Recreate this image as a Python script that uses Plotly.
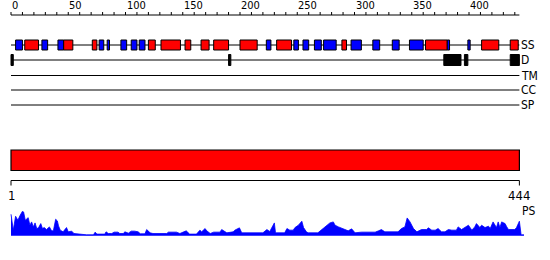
import plotly.graph_objects as go

# ---------------- data ----------------
seq_len = 444

ss_start = [4, 12, 27, 41, 46, 71, 77, 84, 96, 105, 112, 120, 131, 152, 166, 177, 200,
            223, 232, 247, 255, 265, 273, 289, 297, 316, 333, 348, 362, 381, 399, 411, 436]
ss_end = [10, 24, 32, 46, 54, 75, 81, 86, 101, 110, 117, 126, 148, 157, 173, 190, 215,
          227, 245, 251, 260, 271, 284, 293, 306, 322, 339, 360, 381, 383, 401, 426, 443]
ss_type = ['E', 'H', 'E', 'E', 'H', 'H', 'E', 'E', 'E', 'E', 'E', 'H', 'H', 'H', 'H', 'H', 'H',
           'E', 'H', 'E', 'E', 'E', 'E', 'H', 'E', 'E', 'E', 'E', 'H', 'E', 'E', 'H', 'H']

dis_start = [0, 190, 378, 396, 436]
dis_end = [2, 192, 393, 399, 444]

track_labels = ['SS', 'D', 'TM', 'CC', 'SP']

ruler_minor = list(range(0, 441, 10))
ruler_labels = list(range(0, 401, 50))

domain_start = [0]
domain_end = [444]
domain_ticks = [1, 444]

ps_pos = [0, 2, 4, 6, 8, 10, 11, 12.5, 15, 16.5, 18, 19.5, 21, 22.5, 24, 26, 27.5, 29, 31, 33.5,
          35.5, 37, 39, 40.5, 41.5, 43, 45.5, 48.5, 50, 53, 55, 60, 66, 72, 73.5, 75, 82, 83, 85,
          88, 90, 93.5, 95, 98, 99.5, 102.5, 105, 108, 110, 111, 113, 117, 118.5, 121.5, 124,
          136, 137.5, 144.5, 147.5, 153, 156, 162, 165, 166.5, 169.5, 171, 174, 177, 182.5, 184,
          188.5, 194, 195.5, 199.5, 201.5, 206, 220, 223.5, 226, 230, 231, 239, 241, 243.5,
          246.5, 248, 251, 254, 255.5, 258, 259.5, 268, 271.5, 273, 275.5, 278.5, 281.5, 283,
          286, 289, 291.5, 294.5, 297.5, 300.5, 306, 318, 321, 323.5, 326.5, 338, 341, 344,
          346, 348.5, 351.5, 354.5, 358.5, 363, 364.5, 367.5, 370.5, 373, 376, 379, 382, 385,
          389, 390.5, 393.5, 396.5, 399.5, 402.5, 405, 406.5, 409.5, 411, 414, 417, 418.5,
          421, 422.5, 424, 425.5, 427, 428.5, 431.5, 433, 434.5, 440, 441.5, 444, 445.5, 448]
ps_val = [21.7, 5.7, 19.7, 15.7, 20.7, 24.7, 24, 15.7, 18.3, 10.7, 14, 9, 13, 7.3, 8, 12.3, 7.3,
          8.3, 6.3, 9, 5, 5, 16.7, 15, 10, 5.7, 4, 8.3, 4, 4.7, 2.3, 1.5, 1, 1, 3.7, 1.7, 1.7, 4,
          2.3, 2.3, 3.7, 3.7, 2.3, 2.3, 4, 2.7, 4.7, 4.7, 4, 4, 2, 2, 6.3, 3, 2.3, 2.3, 3.7, 3.7,
          2.3, 5, 1.7, 1.7, 5.7, 4, 7.3, 5, 2.3, 3.7, 3.7, 6.3, 3, 4, 5.7, 8, 3, 3, 3, 6.3, 4.3,
          13, 3, 3, 7.3, 5.7, 5.7, 8.3, 10.7, 14.7, 8.3, 4, 3, 3, 6.3, 8.3, 10.7, 13, 14, 10.7,
          9, 7.3, 6.3, 5, 7, 3, 3.7, 3.7, 5, 6.3, 4, 4, 7.3, 9, 18, 14, 7.3, 4, 6.3, 6.3, 8,
          5.7, 5.7, 7.3, 4, 4, 6.3, 5.7, 5.7, 9, 6.3, 8.3, 10.7, 5.7, 9, 12.3, 8.3, 10.7, 8.3,
          9.7, 7.3, 14, 10.7, 8.3, 14, 8.3, 14, 12.3, 9, 6.3, 6.3, 8.3, 14.7, 1, 1]

# ---------------- styles / layout constants ----------------
px_per_res = 1.145
left_px = 11
W, H = 550, 260
x_range = [-left_px / px_per_res, (W - left_px) / px_per_res]

ruler_y = 15
track_y = {'SS': 45, 'D': 60, 'TM': 75.5, 'CC': 90, 'SP': 105}
ss_half = 5
dis_half = 5.5
bar_top, bar_bot = 150, 170.5
bottom_ruler_y = 180.5
ss_colors = {'H': '#ff0000', 'E': '#0000ff'}
FONT = 'Liberation Sans Narrow, DejaVu Sans Condensed, Liberation Sans, sans-serif'

fig = go.Figure()
shapes = []
annotations = []

# top ruler
shapes.append(dict(type='line', xref='x', yref='y', x0=0, x1=seq_len, y0=ruler_y, y1=ruler_y,
                   line=dict(color='black', width=1)))
for t in ruler_minor:
    shapes.append(dict(type='line', xref='x', yref='y', x0=t, x1=t, y0=ruler_y - 3, y1=ruler_y,
                       line=dict(color='black', width=1)))
for t in ruler_labels:
    annotations.append(dict(x=t, y=ruler_y - 9.5, xref='x', yref='y', text=str(t), showarrow=False,
                            xanchor='left', yanchor='middle', xshift=-1,
                            font=dict(family=FONT, size=11, color='black')))

# track lines
for name in track_labels:
    y = track_y[name]
    shapes.append(dict(type='line', xref='x', yref='y', x0=0, x1=seq_len, y0=y, y1=y,
                       line=dict(color='black', width=1)))
    annotations.append(dict(x=seq_len, y=y, xref='x', yref='y', text=name, showarrow=False,
                            xanchor='left', yanchor='middle', xshift=0,
                            font=dict(family=FONT, size=12, color='black')))

# secondary structure
for s, e, t in zip(ss_start, ss_end, ss_type):
    shapes.append(dict(type='rect', xref='x', yref='y', x0=s, x1=e,
                       y0=track_y['SS'] - ss_half, y1=track_y['SS'] + ss_half,
                       fillcolor=ss_colors[t], line=dict(color='black', width=1)))

# disorder
for s, e in zip(dis_start, dis_end):
    shapes.append(dict(type='rect', xref='x', yref='y', x0=s, x1=e,
                       y0=track_y['D'] - dis_half, y1=track_y['D'] + dis_half,
                       fillcolor='black', line=dict(color='black', width=1)))

# domain bar
for s, e in zip(domain_start, domain_end):
    shapes.append(dict(type='rect', xref='x', yref='y', x0=s, x1=e, y0=bar_top, y1=bar_bot,
                       fillcolor='#ff0000', line=dict(color='black', width=1.2)))

# bottom ruler
shapes.append(dict(type='line', xref='x', yref='y', x0=0, x1=seq_len,
                   y0=bottom_ruler_y, y1=bottom_ruler_y, line=dict(color='black', width=1)))
for t in [0, seq_len]:
    shapes.append(dict(type='line', xref='x', yref='y', x0=t, x1=t,
                       y0=bottom_ruler_y, y1=bottom_ruler_y + 5, line=dict(color='black', width=1)))
for t, xpos in zip(domain_ticks, [0, seq_len]):
    annotations.append(dict(x=xpos, y=195, xref='x', yref='y', text=str(t), showarrow=False,
                            xanchor='center', yanchor='middle',
                            font=dict(family=FONT, size=13, color='black')))
annotations.append(dict(x=seq_len, y=210.5, xref='x', yref='y', text='PS', showarrow=False,
                        xanchor='left', yanchor='middle', xshift=1,
                        font=dict(family=FONT, size=12, color='black')))

# PS profile
fig.add_trace(go.Scatter(x=ps_pos, y=ps_val, mode='lines', fill='tozeroy',
                         line=dict(color='#0000ff', width=0.8), fillcolor='#0000ff',
                         yaxis='y2', hoverinfo='skip', showlegend=False))

fig.update_layout(
    width=W, height=H, margin=dict(l=0, r=0, t=0, b=0),
    paper_bgcolor='white', plot_bgcolor='white', showlegend=False,
    xaxis=dict(range=x_range, visible=False, showgrid=False, zeroline=False, fixedrange=True),
    yaxis=dict(range=[H, 0], visible=False, showgrid=False, zeroline=False, domain=[0, 1]),
    yaxis2=dict(range=[-0.7, 25], visible=False, showgrid=False, zeroline=False,
                domain=[1 - 236.5 / H, 1 - 211 / H], anchor='x'),
    shapes=shapes, annotations=annotations,
)

fig.write_html('out.html')
